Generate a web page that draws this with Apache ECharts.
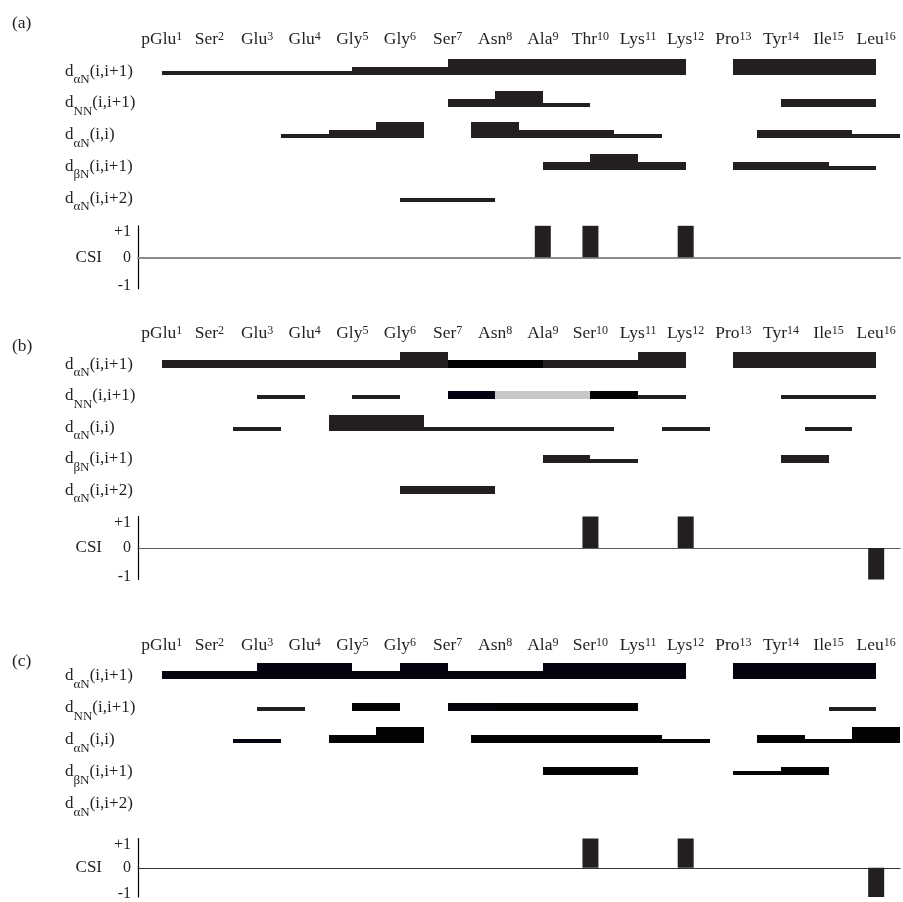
<!DOCTYPE html>
<html>
<head>
<meta charset="utf-8">
<script src="https://cdn.jsdelivr.net/npm/echarts@6/dist/echarts.min.js"></script>
<style>
  html, body { margin: 0; padding: 0; background: #ffffff; }
  #chart { width: 903px; height: 902px; }
</style>
</head>
<body>
<div id="chart"></div>
<script>
// ---- Sequence ----
const residuesA  = ['pGlu','Ser','Glu','Glu','Gly','Gly','Ser','Asn','Ala','Thr','Lys','Lys','Pro','Tyr','Ile','Leu'];
const residuesBC = ['pGlu','Ser','Glu','Glu','Gly','Gly','Ser','Asn','Ala','Ser','Lys','Lys','Pro','Tyr','Ile','Leu'];

// ---- NOE rows (label = d + subscript + argument) ----
const rowSubscripts = ['αN', 'NN', 'αN', 'βN', 'αN'];
const rowArguments  = ['(i,i+1)', '(i,i+1)', '(i,i)', '(i,i+1)', '(i,i+2)'];

// ---- NOE intensities: [residue i, strength] with 1 = weak, 2 = medium, 3 = strong ----
// Panel (a)
const aAlphaN1 = [[1,1],[2,1],[3,1],[4,1],[5,2],[6,2],[7,3],[8,3],[9,3],[10,3],[11,3],[13,3],[14,3],[15,3]];
const aNN1     = [[7,2],[8,3],[9,1],[14,2],[15,2]];
const aAlphaNi = [[4,1],[5,2],[6,3],[8,3],[9,2],[10,2],[11,1],[14,2],[15,2],[16,1]];
const aBetaN1  = [[9,2],[10,3],[11,2],[13,2],[14,2],[15,1]];
const aAlphaN2 = [[6,1]];
// Panel (b)
const bAlphaN1 = [[1,2],[2,2],[3,2],[4,2],[5,2],[6,3],[7,2],[8,2],[9,2],[10,2],[11,3],[13,3],[14,3],[15,3]];
const bNN1     = [[3,1],[5,1],[7,2],[8,2],[9,2],[10,2],[11,1],[14,1],[15,1]];
const bAlphaNi = [[3,1],[5,3],[6,3],[7,1],[8,1],[9,1],[10,1],[12,1],[15,1]];
const bBetaN1  = [[9,2],[10,1],[14,2]];
const bAlphaN2 = [[6,2]];
// Panel (c)
const cAlphaN1 = [[1,2],[2,2],[3,3],[4,3],[5,2],[6,3],[7,2],[8,2],[9,3],[10,3],[11,3],[13,3],[14,3],[15,3]];
const cNN1     = [[3,1],[5,2],[7,2],[8,2],[9,2],[10,2],[15,1]];
const cAlphaNi = [[3,1],[5,2],[6,3],[8,2],[9,2],[10,2],[11,2],[12,1],[14,2],[15,1],[16,3]];
const cBetaN1  = [[9,2],[10,2],[13,1],[14,2]];
const cAlphaN2 = [];

// ---- Chemical shift index: [residue, CSI] (residues not listed are 0) ----
const csiA = [[9,1],[10,1],[12,1]];
const csiB = [[10,1],[12,1],[16,-1]];
const csiC = [[10,1],[12,1],[16,-1]];

// ---- Styling ----
const FONT = 'Liberation Serif';
const INK = '#231f20';
const tones = { ink: '#231f20', black: '#030303', navy: '#03030f', deepNavy: '#00000f', overlap: '#c8c8c8' };
const strengthHeight = { 1: 4, 2: 8, 3: 16 };
const barDrop = 3.6;            // bar bottoms sit slightly below the row label centre
// default tone per row, per panel
const rowTones = {
  a: ['ink', 'ink', 'ink', 'ink', 'ink'],
  b: ['ink', 'ink', 'ink', 'ink', 'ink'],
  c: ['navy', 'black', 'black', 'black', 'black']
};
// individual segments drawn in another tone: [panel, row, residue, tone]
const toneOverrides = [
  ['b', 1, 7, 'black'], ['b', 1, 8, 'black'],
  ['b', 2, 7, 'deepNavy'], ['b', 2, 8, 'overlap'], ['b', 2, 9, 'overlap'], ['b', 2, 10, 'black'],
  ['c', 2, 3, 'ink'], ['c', 2, 7, 'navy'], ['c', 2, 15, 'ink'],
  ['c', 3, 3, 'navy']
];

// Page layout per panel: baseline of residue names, bottom of first NOE row, row pitch, CSI zero line
const layout = {
  a: { nameBase: 45,  row1: 74.7,  pitch: 31.8, csiZero: 257.3 },
  b: { nameBase: 339, row1: 367.7, pitch: 31.6, csiZero: 548 },
  c: { nameBase: 651, row1: 679.3, pitch: 32.0, csiZero: 870 }
};
const tagTop = { a: 14, b: 337, c: 652 };
const GRID_LEFT = 138, GRID_WIDTH = 762, CSI_HALF = 31.5;

const panels = [
  { key: 'a', residues: residuesA,  rows: [aAlphaN1, aNN1, aAlphaNi, aBetaN1, aAlphaN2], csi: csiA },
  { key: 'b', residues: residuesBC, rows: [bAlphaN1, bNN1, bAlphaNi, bBetaN1, bAlphaN2], csi: csiB },
  { key: 'c', residues: residuesBC, rows: [cAlphaN1, cNN1, cAlphaNi, cBetaN1, cAlphaN2], csi: csiC }
];
const zeroLineStyle = {
  a: { color: '#8c8c8c', width: 2 },
  b: { color: '#5a5a5a', width: 1.2 },
  c: { color: '#333333', width: 1.2 }
};

// span of a connectivity for each row kind
function span(rowIndex, i) {
  if (rowIndex === 2) return [i - 0.5, i + 0.5];   // d(i,i): centred on residue
  if (rowIndex === 4) return [i, i + 2];           // (i,i+2)
  return [i, i + 1];                                // (i,i+1)
}
function toneOf(panelKey, rowNumber, residue) {
  const o = toneOverrides.find(t => t[0] === panelKey && t[1] === rowNumber && t[2] === residue);
  return tones[o ? o[3] : rowTones[panelKey][rowNumber - 1]];
}

const grid = [], xAxis = [], yAxis = [], series = [], title = [];

panels.forEach((p, pi) => {
  const L = layout[p.key];
  const noeTop = L.row1 - barDrop - L.pitch;
  const noeGrid = pi * 2, csiGrid = pi * 2 + 1;

  grid.push({ left: GRID_LEFT, width: GRID_WIDTH, top: noeTop, height: 5 * L.pitch });
  grid.push({ left: GRID_LEFT, width: GRID_WIDTH, top: L.csiZero - CSI_HALF, height: 2 * CSI_HALF });

  title.push({
    text: '(' + p.key + ')', left: 12, top: tagTop[p.key], padding: 0,
    textStyle: { fontFamily: FONT, fontSize: 17.5, fontWeight: 'normal', color: INK }
  });

  // value axis for the NOE bars
  const xNoe = xAxis.length;
  xAxis.push({ type: 'value', gridIndex: noeGrid, min: 0.5, max: 16.5, show: false });
  // residue names on top
  xAxis.push({
    type: 'category', gridIndex: noeGrid, position: 'top', data: p.residues, boundaryGap: true,
    axisLine: { show: false }, axisTick: { show: false }, splitLine: { show: false },
    axisLabel: {
      interval: 0, margin: noeTop - (L.nameBase + 2.8),
      formatter: (v, idx) => '{n|' + v + '}{s|' + (idx + 1) + '}',
      rich: {
        n: { fontFamily: FONT, fontSize: 17.5, lineHeight: 17, color: INK },
        s: { fontFamily: FONT, fontSize: 12, lineHeight: 12, verticalAlign: 'top', color: INK }
      }
    }
  });
  // CSI axis (zero line)
  const xCsi = xAxis.length;
  xAxis.push({
    type: 'value', gridIndex: csiGrid, min: 0.5, max: 16.5,
    axisLine: { show: true, onZero: true, lineStyle: zeroLineStyle[p.key] },
    axisTick: { show: false }, axisLabel: { show: false }, splitLine: { show: false }
  });

  const yNoe = yAxis.length;
  yAxis.push({
    type: 'value', gridIndex: noeGrid, min: 0, max: 5, interval: 1, inverse: true,
    axisLine: { show: false }, axisTick: { show: false }, splitLine: { show: false },
    axisLabel: {
      align: 'left', margin: GRID_LEFT - 65,
      formatter: v => (v >= 1 && v <= 5)
        ? '{d|d}{s|' + rowSubscripts[v - 1] + '}{d|' + rowArguments[v - 1] + '}' : '',
      rich: {
        d: { fontFamily: FONT, fontSize: 17, lineHeight: 30, color: INK },
        s: { fontFamily: FONT, fontSize: 13, lineHeight: 12, verticalAlign: 'bottom', color: INK }
      }
    }
  });
  const yCsi = yAxis.length;
  yAxis.push({
    type: 'value', gridIndex: csiGrid, min: -1, max: 1, interval: 1,
    name: 'CSI', nameLocation: 'middle', nameRotate: 0, nameGap: 36,
    nameTextStyle: { fontFamily: FONT, fontSize: 17, color: INK },
    axisLine: { show: true, lineStyle: { color: '#000000', width: 1.2 } },
    axisTick: { show: false }, splitLine: { show: false },
    axisLabel: {
      margin: 7,
      formatter: v => v === 1 ? '{p|+1}' : (v === -1 ? '{m|-1}' : '{z|0}'),
      rich: {
        p: { fontFamily: FONT, fontSize: 16, color: INK, padding: [12, 0, 0, 0] },
        m: { fontFamily: FONT, fontSize: 16, color: INK, padding: [0, 0, 6, 0] },
        z: { fontFamily: FONT, fontSize: 16, color: INK, padding: [0, 0, 0, 0] }
      }
    }
  });

  // NOE connectivity bars
  const items = [];
  p.rows.forEach((rowData, ri) => {
    rowData.forEach(([i, s]) => {
      const [x0, x1] = span(ri, i);
      items.push({ value: [x0, x1, ri + 1, s], itemStyle: { color: toneOf(p.key, ri + 1, i) } });
    });
  });
  series.push({
    type: 'custom', xAxisIndex: xNoe, yAxisIndex: yNoe, clip: false,
    encode: { x: [0, 1], y: 2 },
    data: items,
    renderItem: (params, api) => {
      const a = api.coord([api.value(0), api.value(2)]);
      const b = api.coord([api.value(1), api.value(2)]);
      const h = strengthHeight[api.value(3)];
      // snap edges to whole pixels so neighbouring segments join without seams
      const left = Math.round(a[0]), right = Math.round(b[0]);
      const bottom = Math.round(a[1] + barDrop);
      return {
        type: 'rect',
        shape: { x: left, y: bottom - h, width: right - left, height: h },
        style: { fill: api.visual('color') }
      };
    }
  });

  // CSI bars
  series.push({
    type: 'bar', xAxisIndex: xCsi, yAxisIndex: yCsi, barWidth: 16,
    itemStyle: { color: INK }, data: p.csi, silent: true
  });
});

const chart = echarts.init(document.getElementById('chart'), null, { renderer: 'canvas' });
chart.setOption({
  animation: false,
  backgroundColor: '#ffffff',
  title, grid, xAxis, yAxis, series
});
</script>
</body>
</html>
